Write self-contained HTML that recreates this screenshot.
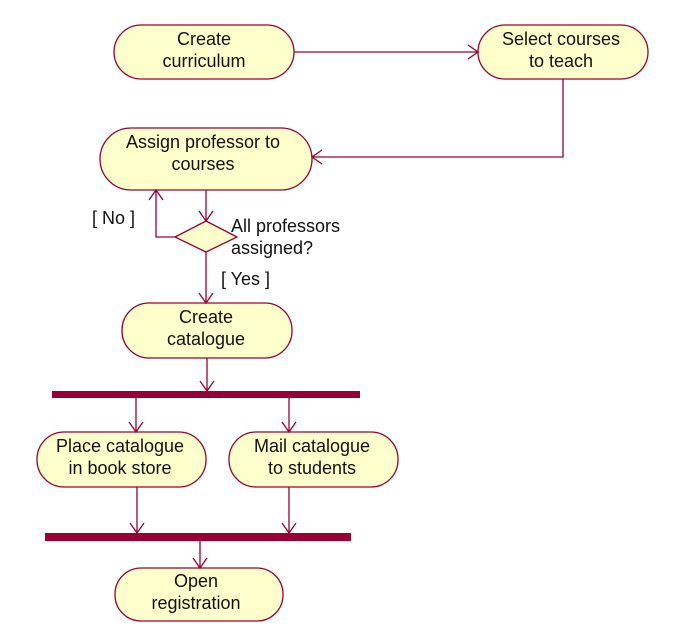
<!DOCTYPE html>
<html><head><meta charset="utf-8"><style>
body{margin:0;background:#fff;width:684px;height:632px;overflow:hidden}
text{font-family:"Liberation Sans",sans-serif;font-size:18px;fill:#111}
</style></head><body>
<svg width="684" height="632" xmlns="http://www.w3.org/2000/svg">
<g fill="#ffffcc" stroke="#990033" stroke-width="1.3">
<rect x="114" y="25" width="180" height="54" rx="27"/>
<rect x="478" y="25" width="170" height="54" rx="27"/>
<rect x="100" y="128" width="212" height="62" rx="31"/>
<polygon points="175,237 206,221 237,237 206,252"/>
<rect x="122" y="303" width="170" height="55" rx="27"/>
<rect x="37" y="432" width="169" height="55" rx="27"/>
<rect x="229" y="432" width="169" height="55" rx="27"/>
<rect x="115" y="568" width="168" height="53" rx="26"/>
</g>
<g fill="#990033">
<rect x="52" y="391" width="308" height="7"/>
<rect x="45" y="533" width="306" height="8"/>
</g>
<g fill="none" stroke="#990033" stroke-width="1.3">
<path d="M294 52H478M468 45L478 52L468 59"/>
<path d="M563 79V157H312M322 150L312 157L322 164"/>
<path d="M206 190V221M199 211L206 221L213 211"/>
<path d="M175 237H156V190M149 200L156 190L163 200"/>
<path d="M206 252V303M199 293L206 303L213 293"/>
<path d="M207 358V391M200 381L207 391L214 381"/>
<path d="M136 398V432M129 422L136 432L143 422"/>
<path d="M289 398V432M282 422L289 432L296 422"/>
<path d="M137 487V533M130 523L137 533L144 523"/>
<path d="M289 487V533M282 523L289 533L296 523"/>
<path d="M200 541V568M193 558L200 568L207 558"/>
</g>
<g text-anchor="middle">
<text x="204" y="45">Create</text><text x="204" y="67">curriculum</text>
<text x="561" y="45">Select courses</text><text x="561" y="67">to teach</text>
<text x="203" y="148">Assign professor to</text><text x="203" y="170">courses</text>
<text x="206" y="323">Create</text><text x="206" y="345">catalogue</text>
<text x="120" y="452">Place catalogue</text><text x="120" y="474">in book store</text>
<text x="312" y="452">Mail catalogue</text><text x="312" y="474">to students</text>
<text x="196" y="587">Open</text><text x="196" y="609">registration</text>
</g>
<text x="231" y="232">All professors</text>
<text x="231" y="254">assigned?</text>
<text x="92" y="224">[ No ]</text>
<text x="221" y="285">[ Yes ]</text>
</svg>
</body></html>
